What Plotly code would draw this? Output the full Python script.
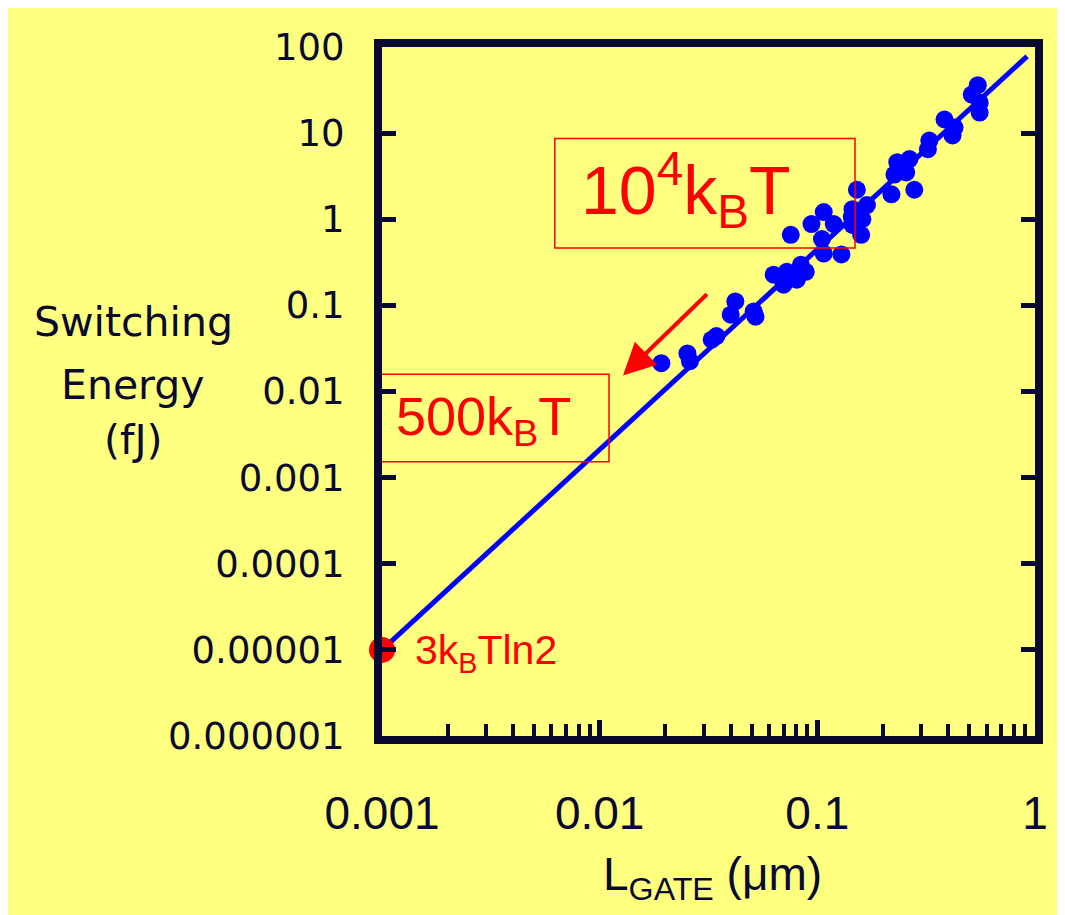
import numpy as np
import plotly.graph_objects as go

# ---------------- data ----------------
gate_length_um = [0.546, 0.512, 0.557, 0.557,
                  0.384, 0.427, 0.418, 0.327, 0.322,
                  0.233, 0.265, 0.226, 0.256, 0.279, 0.219,
                  0.152, 0.169, 0.161, 0.159, 0.145,
                  0.107, 0.094, 0.119, 0.105, 0.107, 0.129, 0.145, 0.144,
                  0.0755,
                  0.063, 0.0724, 0.084, 0.0885, 0.070, 0.0805,
                  0.042, 0.040, 0.051, 0.052,
                  0.0344, 0.0327,
                  0.0253, 0.026, 0.0192]
switching_energy_fJ = [36, 28, 22.6, 17.3,
                       14.4, 11.6, 9.4, 8.2, 6.5,
                       4.6, 5.0, 3.3, 3.5, 2.2, 1.95,
                       2.2, 1.46, 1.0, 0.66, 0.86,
                       1.21, 0.88, 0.88, 0.59, 0.40, 0.39, 1.31, 1.06,
                       0.66,
                       0.227, 0.245, 0.296, 0.245, 0.174, 0.199,
                       0.111, 0.078, 0.085, 0.074,
                       0.044, 0.040,
                       0.0277, 0.0225, 0.0213]

trend_x = [0.001, 0.92]
trend_y = [1e-5, 78]

limit_x = [0.001]
limit_y = [1e-5]

x_tickvals = [0.001, 0.01, 0.1, 1]
x_ticktext = ["0.001", "0.01", "0.1", "1"]
x_minorvals = [m * d for d in (0.001, 0.01, 0.1) for m in range(2, 10)]
y_tickvals = [1e-6, 1e-5, 1e-4, 1e-3, 1e-2, 1e-1, 1, 10, 100]
y_ticktext = ["0.000001", "0.00001", "0.0001", "0.001", "0.01", "0.1", "1", "10", "100"]

# annotation anchors (data units)
box_hi = dict(x0=0.00622, x1=0.149, y0=0.465, y1=8.67)
box_lo = dict(x0=0.00097, x1=0.01104, y0=0.00153, y1=0.0159)
arrow_from = (0.0316, 0.14)
arrow_to = (0.0128, 0.0153)

# ---------------- layout helpers ----------------
OFF = 8                     # page body margin
W, H = 1057, 907
L, R, T, B = 374, 1027, 39, 728
def px(xp):                 # page pixel -> paper x
    return (xp - OFF - L) / (R - L)
def py(yp):                 # page pixel -> paper y
    return (B - (yp - OFF)) / (B - T)

NAVY = "#0a0a30"
RED = "#ff0000"
BLUE = "#0000ff"
YELLOW = "#ffff80"

fig = go.Figure()
fig.add_trace(go.Scatter(x=trend_x, y=trend_y, mode="lines",
                         line=dict(color=BLUE, width=5), hoverinfo="skip"))
fig.add_trace(go.Scatter(x=gate_length_um, y=switching_energy_fJ, mode="markers",
                         marker=dict(color=BLUE, size=18, line=dict(width=0))))
fig.add_trace(go.Scatter(x=limit_x, y=limit_y, mode="markers", cliponaxis=False,
                         marker=dict(color=RED, size=26, line=dict(width=0))))

for b in (box_hi, box_lo):
    fig.add_shape(type="rect", xref="x", yref="y", **b,
                  line=dict(color=RED, width=1.5), fillcolor="rgba(0,0,0,0)")

fig.add_annotation(x=np.log10(arrow_to[0]), y=np.log10(arrow_to[1]),
                   ax=np.log10(arrow_from[0]), ay=np.log10(arrow_from[1]),
                   axref="x", ayref="y", xref="x", yref="y", text="",
                   showarrow=True, arrowhead=2, arrowsize=1.6, arrowwidth=4,
                   arrowcolor=RED, standoff=0, startstandoff=0)

red_font = "Liberation Sans, Arial, sans-serif"
fig.add_annotation(x=px(685), y=py(190), xref="paper", yref="paper",
                   xanchor="center", yanchor="middle",
                   text="10<sup>4</sup>k<sub>B</sub>T", showarrow=False,
                   font=dict(family=red_font, size=68, color=RED))
fig.add_annotation(x=px(483), y=py(420), xref="paper", yref="paper",
                   xanchor="center", yanchor="middle",
                   text="500k<sub>B</sub>T", showarrow=False,
                   font=dict(family=red_font, size=54, color=RED))
fig.add_annotation(x=px(413), y=py(653), xref="paper", yref="paper",
                   xanchor="left", yanchor="middle",
                   text="3k<sub>B</sub>Tln2", showarrow=False,
                   font=dict(family=red_font, size=41, color=RED))

title_font = dict(family="DejaVu Sans, sans-serif", size=41, color=NAVY)
for txt, yp in (("Switching", 322), ("Energy", 385), ("(fJ)", 440)):
    fig.add_annotation(x=px(133), y=py(yp), xref="paper", yref="paper",
                       xanchor="center", yanchor="middle",
                       text=txt, showarrow=False, font=title_font)

fig.add_annotation(x=px(712), y=py(877), xref="paper", yref="paper",
                   xanchor="center", yanchor="middle",
                   text="L<sub>GATE</sub> (\u03bcm)", showarrow=False,
                   font=dict(family="Liberation Sans, Arial, sans-serif", size=46, color=NAVY))

fig.update_xaxes(type="log", range=[-3, 0], tickvals=x_tickvals, ticktext=x_ticktext,
                 ticks="inside", ticklen=16, tickwidth=5, tickcolor=NAVY,
                 minor=dict(tickvals=x_minorvals, ticks="inside", ticklen=12,
                            tickwidth=4, tickcolor=NAVY, showgrid=False),
                 showline=True, linewidth=8, linecolor=NAVY, mirror=True,
                 showgrid=False, zeroline=False, ticklabelstandoff=30,
                 tickfont=dict(family="Liberation Sans, Arial, sans-serif", size=46, color=NAVY))
fig.update_yaxes(type="log", range=[-6, 2], tickvals=y_tickvals, ticktext=y_ticktext,
                 ticks="inside", ticklen=14, tickwidth=5, tickcolor=NAVY,
                 showline=True, linewidth=8, linecolor=NAVY, mirror="ticks",
                 showgrid=False, zeroline=False, ticklabelstandoff=22,
                 tickfont=dict(family="DejaVu Sans, sans-serif", size=37, color=NAVY))

fig.update_layout(width=W, height=H, showlegend=False,
                  margin=dict(l=L, r=W - R, t=T, b=H - B, autoexpand=False),
                  paper_bgcolor=YELLOW, plot_bgcolor=YELLOW)

fig.write_html("out.html")
